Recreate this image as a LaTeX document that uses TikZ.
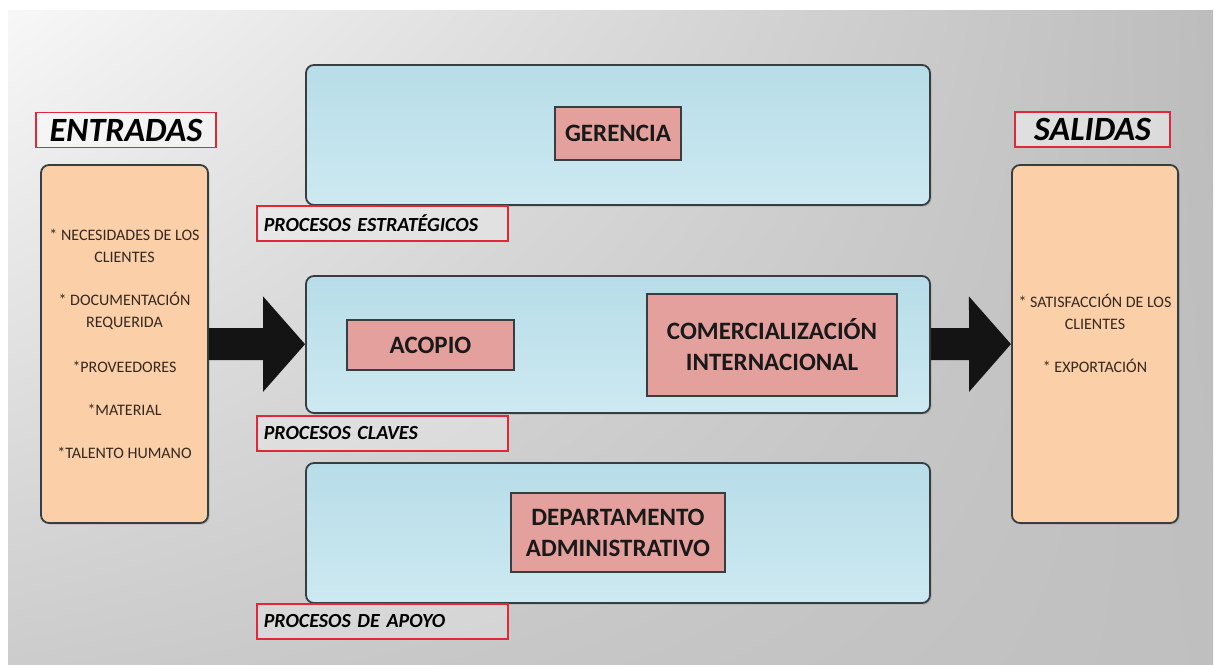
\documentclass[tikz,border=0pt]{standalone}
\usepackage{fontspec}
\setmainfont{Carlito}
\newfontfamily\etiquetafont{Carlito}[WordSpace=0.6]
\usetikzlibrary{arrows.meta}
\usetikzlibrary{shadows}
\usetikzlibrary{shadings}
\definecolor{azulsup}{RGB}{183,221,232}
\definecolor{azulinf}{RGB}{205,233,241}
\definecolor{rosa}{RGB}{228,160,156}
\definecolor{durazno}{RGB}{251,207,168}
\definecolor{rojoborde}{RGB}{226,40,56}
\definecolor{bordeoscuro}{RGB}{55,62,66}
\definecolor{textolista}{RGB}{52,40,32}
\tikzset{x=0.5pt, y=-0.5pt, % one unit = one pixel of the reference
  proceso/.style={ % large blue process areas
    draw=bordeoscuro, line width=0.9pt, rounded corners=4pt,
    top color=azulsup, bottom color=azulinf,
    minimum width=312pt, minimum height=70pt,
    drop shadow={shadow xshift=0.8pt, shadow yshift=-0.8pt, opacity=0.35}},
  actividad/.style={ % pink boxes inside the areas
    draw=bordeoscuro, line width=0.7pt, fill=rosa, inner sep=0pt,
    align=center, text=black!90,
    font=\bfseries\fontsize{12.5}{15.5}\selectfont},
  etiqueta/.style={ % red framed captions under each area
    draw=rojoborde, line width=0.8pt, fill=white, fill opacity=0.25,
    text opacity=1, anchor=north west, inner xsep=3.5pt, inner ysep=0pt,
    minimum width=125.5pt, minimum height=17.5pt,
    text width=118.5pt, align=left,
    font=\etiquetafont\bfseries\itshape\fontsize{10}{11}\selectfont},
  titulo/.style={
    draw=rojoborde, line width=0.8pt, fill=white, fill opacity=0.45,
    text opacity=1, inner sep=0pt, minimum height=17.5pt,
    font=\bfseries\itshape\fontsize{17}{19}\selectfont},
  extremo/.style={ % orange input and output columns
    draw=bordeoscuro, line width=0.9pt, rounded corners=4pt, fill=durazno,
    minimum width=83.5pt, minimum height=179pt, align=center,
    text=textolista, font=\fontsize{8}{11}\selectfont,
    drop shadow={shadow xshift=0.8pt, shadow yshift=-0.8pt, opacity=0.35}},
  flecha/.style={draw=black!92, line width=16pt,
    -{Triangle[length=21pt, width=46.5pt]}}}

\begin{document}
\begin{tikzpicture}
  \useasboundingbox (0,0) rectangle (1219,664);
  \shade[upper left=black!3, upper right=black!26, lower left=black!20,
    lower right=black!25] (8,10) rectangle (1213,664);

  % process areas
  \node [proceso] (estrategico) at (618,135) {};
  \node [proceso, minimum height=68.5pt] (clave) at (618,344.5) {};
  \node [proceso] (apoyo) at (618,533) {};

  \node [etiqueta] (lblestrategico) at (256,205) {PROCESOS ESTRATÉGICOS};
  \node [etiqueta] (lblclave) at (256,415) {PROCESOS CLAVES};
  \node [etiqueta] (lblapoyo) at (256,603) {PROCESOS DE APOYO};

  % activities
  \node [actividad, minimum width=63pt, minimum height=26.5pt] (gerencia)
    at (618,133.5) {GERENCIA};
  \node [actividad, minimum width=83.5pt, minimum height=25pt] (acopio)
    at (430.5,345) {ACOPIO};
  \node [actividad, minimum width=125pt, minimum height=51pt] (comercial)
    at (772,345) {COMERCIALIZACIÓN\\ INTERNACIONAL};
  \node [actividad, minimum width=107pt, minimum height=39.5pt] (depto)
    at (618,532.5) {DEPARTAMENTO\\ ADMINISTRATIVO};

  % inputs and outputs
  \node [titulo, minimum width=90pt] (lblentradas) at (126,130) {ENTRADAS};
  \node [titulo, minimum width=77.5pt] (lblsalidas) at (1092.5,129.5) {SALIDAS};

  \node [extremo] (entradas) at (124.5,344) {
    * NECESIDADES DE LOS\\ CLIENTES\\[10.5pt]
    * DOCUMENTACIÓN\\ REQUERIDA\\[11.5pt]
    *PROVEEDORES\\[10.5pt]
    *MATERIAL\\[10.5pt]
    *TALENTO HUMANO};
  \node [extremo, minimum width=83pt] (salidas) at (1095,344) {
    * SATISFACCIÓN DE LOS\\ CLIENTES\\[10.5pt]
    * EXPORTACIÓN\\[0pt]};

  \draw [flecha] (entradas) -- (clave);
  \draw [flecha] (clave) -- (salidas);
\end{tikzpicture}
\end{document}
